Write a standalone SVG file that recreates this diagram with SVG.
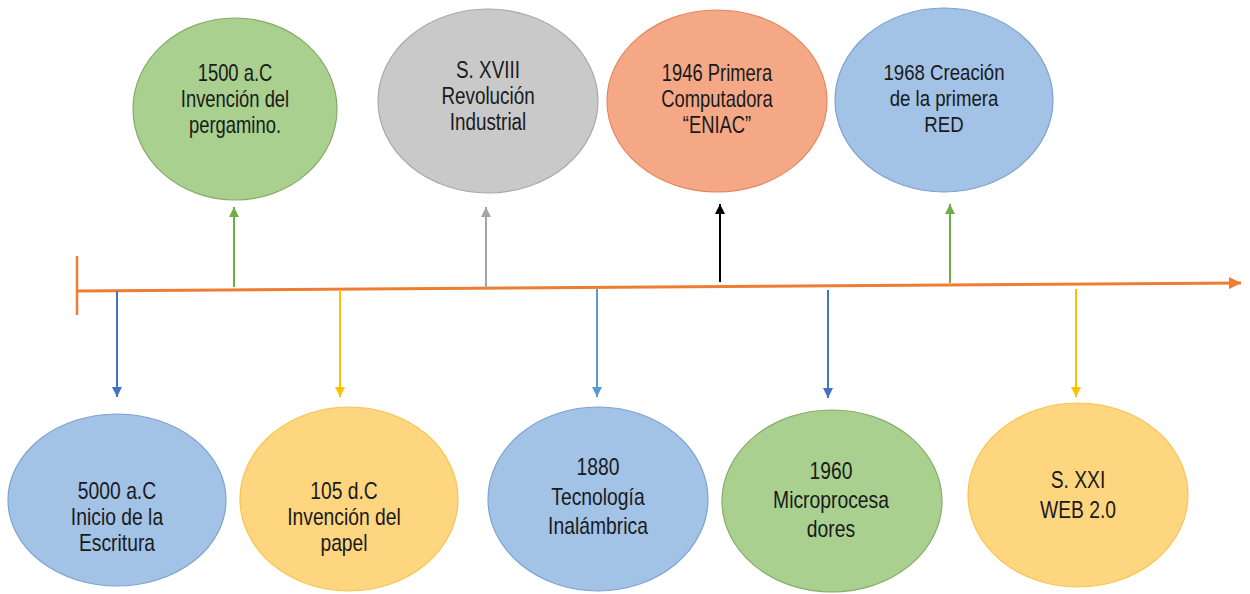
<svg xmlns="http://www.w3.org/2000/svg" width="1250" height="594" viewBox="0 0 1250 594">
<style>
.t{font-family:"Liberation Sans",Arial,sans-serif;font-size:23px;fill:#1a1a1a;text-anchor:middle}
.green{fill:#a9d08e;stroke:#86ab68;stroke-width:1.2}
.gray{fill:#c9c9c9;stroke:#a9a9a9;stroke-width:1.2}
.orange{fill:#f4a886;stroke:#e2875e;stroke-width:1.2}
.blue{fill:#a2c2e6;stroke:#7fa2d0;stroke-width:1.2}
.yellow{fill:#fed67f;stroke:#f6c553;stroke-width:1.2}
.c{fill:none;stroke-width:2}
</style>
<defs>
<marker id="mOr" markerUnits="userSpaceOnUse" markerWidth="14" markerHeight="12" refX="12" refY="6" orient="auto"><path d="M0,0 L12,6 L0,12 Z" fill="#ed7d31"/></marker>
<marker id="mBl" markerUnits="userSpaceOnUse" markerWidth="12" markerHeight="12" refX="10" refY="5" orient="auto"><path d="M0,0 L10,5 L0,10 Z" fill="#4472c4"/></marker>
<marker id="mLb" markerUnits="userSpaceOnUse" markerWidth="12" markerHeight="12" refX="10" refY="5" orient="auto"><path d="M0,0 L10,5 L0,10 Z" fill="#5b9bd5"/></marker>
<marker id="mYe" markerUnits="userSpaceOnUse" markerWidth="12" markerHeight="12" refX="10" refY="5" orient="auto"><path d="M0,0 L10,5 L0,10 Z" fill="#ffc000"/></marker>
<marker id="mGr" markerUnits="userSpaceOnUse" markerWidth="12" markerHeight="12" refX="10" refY="5" orient="auto"><path d="M0,0 L10,5 L0,10 Z" fill="#70ad47"/></marker>
<marker id="mGy" markerUnits="userSpaceOnUse" markerWidth="12" markerHeight="12" refX="10" refY="5" orient="auto"><path d="M0,0 L10,5 L0,10 Z" fill="#a5a5a5"/></marker>
<marker id="mBk" markerUnits="userSpaceOnUse" markerWidth="12" markerHeight="12" refX="10" refY="5" orient="auto"><path d="M0,0 L10,5 L0,10 Z" fill="#000000"/></marker>
</defs>
<rect width="1250" height="594" fill="#ffffff"/>

<g id="connectors">
<line x1="77" y1="256" x2="77" y2="315" stroke="#ed7d31" stroke-width="2.5"/>
<line x1="78" y1="291" x2="1241" y2="283" stroke="#ed7d31" stroke-width="3" marker-end="url(#mOr)"/>
<line class="c" x1="117" y1="291" x2="117" y2="397" stroke="#4472c4" marker-end="url(#mBl)"/>
<line class="c" x1="234" y1="287" x2="234" y2="207" stroke="#70ad47" marker-end="url(#mGr)"/>
<line class="c" x1="340" y1="290" x2="340" y2="397" stroke="#ffc000" marker-end="url(#mYe)"/>
<line class="c" x1="486" y1="288" x2="486" y2="207" stroke="#a5a5a5" marker-end="url(#mGy)"/>
<line class="c" x1="597" y1="289" x2="597" y2="397" stroke="#5b9bd5" marker-end="url(#mLb)"/>
<line class="c" x1="720" y1="282" x2="720" y2="204" stroke="#000000" marker-end="url(#mBk)"/>
<line class="c" x1="828" y1="290" x2="828" y2="398" stroke="#4472c4" marker-end="url(#mBl)"/>
<line class="c" x1="950" y1="283" x2="950" y2="204" stroke="#70ad47" marker-end="url(#mGr)"/>
<line class="c" x1="1076" y1="289" x2="1076" y2="397" stroke="#ffc000" marker-end="url(#mYe)"/>
</g>

<g id="n1500">
<ellipse class="green" cx="235" cy="109" rx="102" ry="91"/>
<g transform="translate(235,0) scale(0.8,1)"><text class="t" x="0" y="81">1500 a.C</text><text class="t" x="0" y="107">Invención del</text><text class="t" x="0" y="133">pergamino.</text></g>
</g>

<g id="nXVIII">
<ellipse class="gray" cx="488" cy="101" rx="110" ry="92"/>
<g transform="translate(488,0) scale(0.82,1)"><text class="t" x="0" y="78">S. XVIII</text><text class="t" x="0" y="104">Revolución</text><text class="t" x="0" y="130">Industrial</text></g>
</g>

<g id="n1946">
<ellipse class="orange" cx="717" cy="101" rx="110" ry="91"/>
<g transform="translate(717,0) scale(0.8,1)"><text class="t" x="0" y="81">1946 Primera</text><text class="t" x="0" y="107">Computadora</text><text class="t" x="0" y="133">“ENIAC”</text></g>
</g>

<g id="n1968">
<ellipse class="blue" cx="944" cy="100" rx="109" ry="92"/>
<g transform="translate(944,0) scale(0.81,1)"><text class="t" x="0" y="80">1968 Creación</text><text class="t" x="0" y="106">de la primera</text><text class="t" x="0" y="132">RED</text></g>
</g>

<g id="n5000">
<ellipse class="blue" cx="117" cy="500" rx="109" ry="86"/>
<g transform="translate(117,0) scale(0.84,1)"><text class="t" x="0" y="499">5000 a.C</text><text class="t" x="0" y="525">Inicio de la</text><text class="t" x="0" y="551">Escritura</text></g>
</g>

<g id="n105">
<ellipse class="yellow" cx="349" cy="499" rx="109" ry="92"/>
<g transform="translate(344,0) scale(0.84,1)"><text class="t" x="0" y="499">105 d.C</text><text class="t" x="0" y="525">Invención del</text><text class="t" x="0" y="551">papel</text></g>
</g>

<g id="n1880">
<ellipse class="blue" cx="598" cy="499" rx="110" ry="92"/>
<g transform="translate(598,0) scale(0.84,1)"><text class="t" x="0" y="475">1880</text><text class="t" x="0" y="505">Tecnología</text><text class="t" x="0" y="534">Inalámbrica</text></g>
</g>

<g id="n1960">
<ellipse class="green" cx="832" cy="501" rx="110" ry="91"/>
<g transform="translate(831,0) scale(0.84,1)"><text class="t" x="0" y="479">1960</text><text class="t" x="0" y="508">Microprocesa</text><text class="t" x="0" y="537">dores</text></g>
</g>

<g id="nXXI">
<ellipse class="yellow" cx="1078" cy="495" rx="110" ry="92"/>
<g transform="translate(1078,0) scale(0.84,1)"><text class="t" x="0" y="488">S. XXI</text><text class="t" x="0" y="518">WEB 2.0</text></g>
</g>
</svg>
